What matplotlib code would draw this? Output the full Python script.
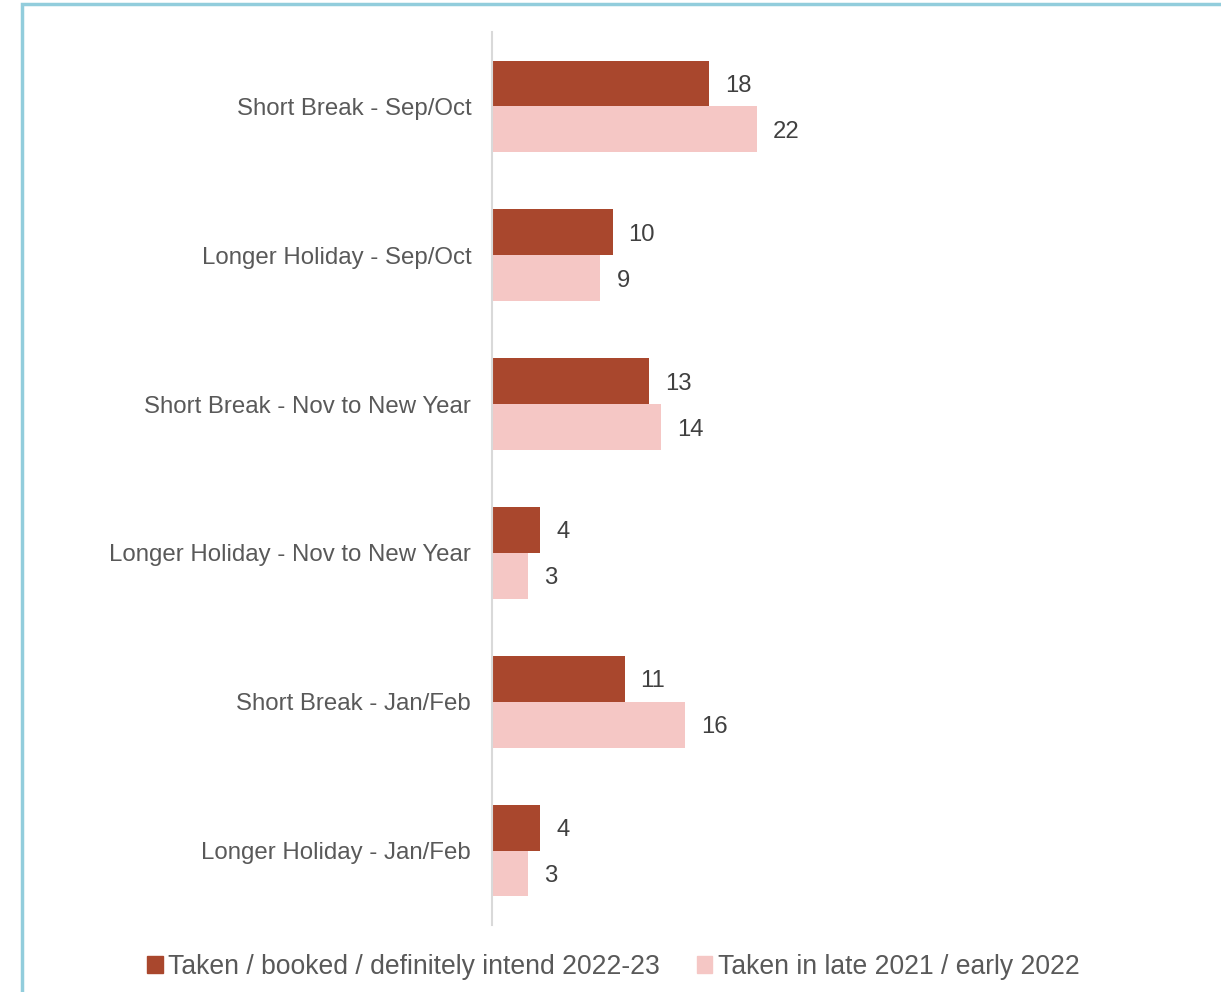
import matplotlib
matplotlib.use("Agg")
import matplotlib.pyplot as plt
from matplotlib.patches import Rectangle, Patch
import numpy as np

plt.rcParams['font.family'] = ['Liberation Sans', 'DejaVu Sans']

categories = ["Short Break - Sep/Oct", "Longer Holiday - Sep/Oct",
              "Short Break - Nov to New Year", "Longer Holiday - Nov to New Year",
              "Short Break - Jan/Feb", "Longer Holiday - Jan/Feb"]
series_names = ["Taken / booked / definitely intend 2022-23", "Taken in late 2021 / early 2022"]
taken_2022_23 = [18, 10, 13, 4, 11, 4]
taken_2021_22 = [22, 9, 14, 3, 16, 3]
colors = ["#A9472D", "#F5C7C5"]

W, H = 1221, 992
fig = plt.figure(figsize=(W / 100, H / 100), dpi=100)

# border
fig.patches.append(Rectangle((21.5 / W, -0.05), 1.2, (1 - 3.5 / H) + 0.05,
                             transform=fig.transFigure, fill=False,
                             edgecolor="#92CDDC", linewidth=2.5))

ax = fig.add_axes([492 / W, 1 - 925 / H, 698 / W, (925 - 32) / H])
y = np.arange(len(categories))
h = 0.308
ax.barh(y - h / 2, taken_2022_23, height=h, color=colors[0], label=series_names[0])
ax.barh(y + h / 2, taken_2021_22, height=h, color=colors[1], label=series_names[1])

for yi, v in zip(y, taken_2022_23):
    ax.annotate(str(v), (v, yi - h / 2), xytext=(16, -2.5), textcoords="offset pixels",
                va="center", ha="left", fontsize=17.2, color="#404040")
for yi, v in zip(y, taken_2021_22):
    ax.annotate(str(v), (v, yi + h / 2), xytext=(16, -2.5), textcoords="offset pixels",
                va="center", ha="left", fontsize=17.2, color="#404040")

ax.set_ylim(len(categories) - 0.5, -0.5)
ax.set_xlim(0, 698 / 12.05)
ax.set_yticks(y)
ax.set_yticklabels(categories, fontsize=17.3, color="#595959")
ax.tick_params(axis="y", length=0, pad=15)
ax.set_xticks([])
for s in ["top", "right", "bottom"]:
    ax.spines[s].set_visible(False)
ax.spines["left"].set_color("#D9D9D9")
ax.spines["left"].set_linewidth(1.5)

handles = [Patch(color=colors[0]), Patch(color=colors[1])]
fig.legend(handles, series_names, loc="center", bbox_to_anchor=(613.5 / W, 1 - 967 / H),
           ncol=2, frameon=False, fontsize=19.1, handlelength=0.57, handleheight=0.57,
           handletextpad=0.2, columnspacing=1.42, labelcolor="#595959",
           borderpad=0, borderaxespad=0)

fig.savefig("out.png", dpi=100)
